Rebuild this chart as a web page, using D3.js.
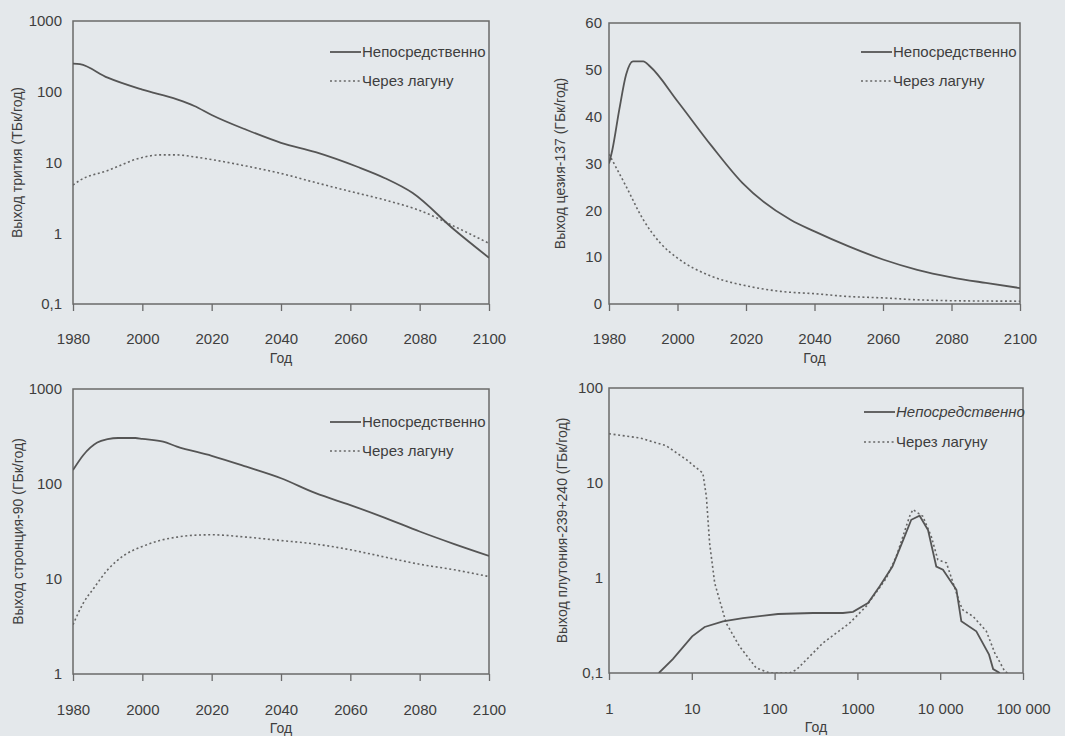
<!DOCTYPE html>
<html>
<head>
<meta charset="utf-8">
<script src="https://cdn.jsdelivr.net/npm/d3@7"></script>
<style>
  html, body { margin: 0; padding: 0; background: #e4e8eb; }
  svg { display: block; font-family: "Liberation Sans", Arial, sans-serif; }
</style>
</head>
<body>
<div id="chart"></div>
<script>
// Легенда
const seriesNames = ["Непосредственно", "Через лагуну"];

// Тритий (ТБк/год)
const tritiumDirectYears = [1980, 1982, 1990, 2000, 2010, 2015, 2020, 2030, 2040, 2050, 2062, 2070, 2078, 2090, 2100];
const tritiumDirect = [250, 245, 158, 107, 78, 63, 47, 29, 19, 14, 8.7, 6.0, 3.7, 1.12, 0.45];
const tritiumLagoonYears = [1980, 1982, 1990, 2000, 2005, 2010, 2015, 2020, 2030, 2040, 2050, 2060, 2070, 2080, 2090, 2100];
const tritiumLagoon = [4.8, 5.6, 7.7, 11.8, 12.8, 12.8, 12, 11, 8.9, 7, 5.2, 3.9, 2.95, 2.1, 1.25, 0.72];

// Цезий-137 (ГБк/год)
const cesiumDirectYears = [1980, 1981, 1983, 1985, 1987, 1990, 1992, 2000, 2010, 2019, 2033, 2040, 2050, 2060, 2070, 2080, 2090, 2100];
const cesiumDirect = [30, 33, 41.5, 49, 51.8, 51.8, 50.7, 43.3, 33.7, 25.8, 18, 15.5, 12.3, 9.5, 7.3, 5.7, 4.5, 3.4];
const cesiumLagoonYears = [1980, 1985, 1990, 1995, 2000, 2010, 2020, 2030, 2040, 2050, 2060, 2070, 2080, 2100];
const cesiumLagoon = [32, 25.1, 18, 13, 9.8, 5.9, 3.9, 2.7, 2.2, 1.6, 1.3, 0.9, 0.7, 0.6];

// Стронций-90 (ГБк/год)
const strontiumDirectYears = [1980, 1983, 1987, 1990, 1993, 1998, 2000, 2006, 2010, 2020, 2030, 2040, 2050, 2060, 2070, 2080, 2090, 2100];
const strontiumDirect = [140, 202, 273, 296, 305, 305, 298, 279, 248, 198, 152, 115, 80, 60, 44, 31.6, 23.3, 17.5];
const strontiumLagoonYears = [1980, 1983, 1986, 1990, 1995, 2000, 2005, 2010, 2015, 2020, 2030, 2040, 2050, 2060, 2070, 2080, 2090, 2100];
const strontiumLagoon = [3.3, 5.6, 8, 12.5, 18, 22, 25.4, 27.6, 28.9, 29.2, 27.6, 25.4, 23.3, 20.3, 17, 14.3, 12.5, 10.6];

// Плутоний-239+240 (ГБк/год), ось X — годы, логарифмическая
const plutoniumDirectYears = [4, 5.9, 10.1, 14.3, 23.8, 41.5, 110, 291, 670, 885, 1343, 1860, 2650, 3720, 4470, 5640, 7130, 8970, 10800, 15700, 18000, 27300, 38900, 43600, 52500];
const plutoniumDirect = [0.1, 0.14, 0.243, 0.305, 0.35, 0.379, 0.418, 0.428, 0.428, 0.44, 0.546, 0.817, 1.32, 2.74, 4.1, 4.53, 3.2, 1.32, 1.22, 0.75, 0.35, 0.275, 0.156, 0.11, 0.1];
const plutoniumLagoonYears = [1, 2.35, 4.9, 8.6, 13.6, 15, 16.4, 18.9, 26, 37.8, 60, 87, 152, 183, 384, 807, 1280, 2240, 2950, 4270, 4690, 6170, 7800, 9360, 11900, 17200, 18800, 24900, 36100, 45700, 60300, 65000];
const plutoniumLagoon = [33, 29.8, 24.7, 17.6, 12.7, 7.2, 2.33, 0.885, 0.336, 0.19, 0.113, 0.1, 0.1, 0.108, 0.207, 0.336, 0.504, 1.0, 1.69, 4.46, 5.25, 4.46, 2.74, 1.56, 1.44, 0.546, 0.46, 0.395, 0.275, 0.162, 0.104, 0.1];

// Подписи делений
const yearTicks = [1980, 2000, 2020, 2040, 2060, 2080, 2100];
const logYearTicks = [1, 10, 100, 1000, 10000, 100000];
const tritiumTicks = [0.1, 1, 10, 100, 1000];
const cesiumTicks = [0, 10, 20, 30, 40, 50, 60];
const strontiumTicks = [1, 10, 100, 1000];
const plutoniumTicks = [0.1, 1, 10, 100];

const width = 1065;
const height = 736;
const ink = "#3e3e3e";
const lineColor = "#555";

const fmt = v => {
  if (v < 1) return String(v).replace(".", ",");
  if (v >= 10000) return d3.format(",")(v).replace(/,/g, " ");
  return String(v);
};

const svg = d3.select("#chart")
  .append("svg")
  .attr("width", width)
  .attr("height", height);

const panels = [
  {
    id: "p1", box: { left: 73, right: 489, top: 21, bottom: 304 },
    x: d3.scaleLinear().domain([1980, 2100]), y: d3.scaleLog().domain([0.1, 1000]),
    xTicks: yearTicks, yTicks: tritiumTicks, yPad: 11, xPad: 22,
    yLabel: "Выход трития (ТБк/год)", yLabelX: 17,
    direct: [tritiumDirectYears, tritiumDirect], lagoon: [tritiumLagoonYears, tritiumLagoon],
    legendY: [52, 81], curve: d3.curveMonotoneX, italic: false
  },
  {
    id: "p2", box: { left: 609, right: 1020, top: 23, bottom: 304 },
    x: d3.scaleLinear().domain([1980, 2100]), y: d3.scaleLinear().domain([0, 60]),
    xTicks: yearTicks, yTicks: cesiumTicks, yPad: 7, xPad: 22,
    yLabel: "Выход цезия-137 (ГБк/год)", yLabelX: 560,
    direct: [cesiumDirectYears, cesiumDirect], lagoon: [cesiumLagoonYears, cesiumLagoon],
    legendY: [52, 81], curve: d3.curveMonotoneX, italic: false
  },
  {
    id: "p3", box: { left: 73, right: 489, top: 389, bottom: 674 },
    x: d3.scaleLinear().domain([1980, 2100]), y: d3.scaleLog().domain([1, 1000]),
    xTicks: yearTicks, yTicks: strontiumTicks, yPad: 11, xPad: 23,
    yLabel: "Выход стронция-90 (ГБк/год)", yLabelX: 18,
    direct: [strontiumDirectYears, strontiumDirect], lagoon: [strontiumLagoonYears, strontiumLagoon],
    legendY: [422, 451], curve: d3.curveMonotoneX, italic: false
  },
  {
    id: "p4", box: { left: 609, right: 1023, top: 388, bottom: 673 },
    x: d3.scaleLog().domain([1, 100000]), y: d3.scaleLog().domain([0.1, 100]),
    xTicks: logYearTicks, yTicks: plutoniumTicks, yPad: 6, xPad: 23,
    yLabel: "Выход плутония-239+240 (ГБк/год)", yLabelX: 562,
    direct: [plutoniumDirectYears, plutoniumDirect], lagoon: [plutoniumLagoonYears, plutoniumLagoon],
    legendY: [412, 442], curve: d3.curveLinear, italic: true
  }
];

panels.forEach(p => {
  const b = p.box;
  p.x.range([b.left, b.right]);
  p.y.range([b.bottom, b.top]);
  const g = svg.append("g");

  g.append("clipPath").attr("id", "clip-" + p.id)
    .append("rect")
    .attr("x", b.left).attr("y", b.top)
    .attr("width", b.right - b.left).attr("height", b.bottom - b.top);

  // Ось X
  const xAxis = g.append("g")
    .attr("transform", `translate(0,${b.bottom})`)
    .call(d3.axisBottom(p.x).tickValues(p.xTicks).tickFormat(fmt)
      .tickSize(7).tickSizeOuter(0).tickPadding(p.xPad));
  xAxis.select(".domain").remove();
  xAxis.selectAll("line").attr("stroke", "#6a6a6a").attr("stroke-width", 1.3);
  xAxis.selectAll("text").attr("fill", ink).style("font-size", "15px");

  // Ось Y
  const yAxis = g.append("g")
    .attr("transform", `translate(${b.left},0)`)
    .call(d3.axisLeft(p.y).tickValues(p.yTicks).tickFormat(fmt)
      .tickSize(0).tickPadding(p.yPad));
  yAxis.select(".domain").remove();
  yAxis.selectAll("text").attr("fill", ink).style("font-size", "15px");

  // Рамка
  g.append("rect")
    .attr("x", b.left).attr("y", b.top)
    .attr("width", b.right - b.left).attr("height", b.bottom - b.top)
    .attr("fill", "none").attr("stroke", "#6a6a6a").attr("stroke-width", 1.5);

  // Подписи осей
  g.append("text")
    .attr("x", (b.left + b.right) / 2).attr("y", b.bottom + 59)
    .attr("text-anchor", "middle").attr("fill", ink)
    .style("font-size", "14px").text("Год");

  g.append("text")
    .attr("transform", `translate(${p.yLabelX},${(b.top + b.bottom) / 2}) rotate(-90)`)
    .attr("dy", "0.35em")
    .attr("text-anchor", "middle").attr("fill", ink)
    .style("font-size", "14px").text(p.yLabel);

  // Линии
  const line = d3.line()
    .x(d => p.x(d[0]))
    .y(d => p.y(d[1]))
    .curve(p.curve);

  const directPts = d3.zip(p.direct[0], p.direct[1]);
  const lagoonPts = d3.zip(p.lagoon[0], p.lagoon[1]);

  const plot = g.append("g").attr("clip-path", `url(#clip-${p.id})`);
  plot.append("path")
    .datum(lagoonPts)
    .attr("fill", "none")
    .attr("stroke", "#666")
    .attr("stroke-width", 1.6)
    .attr("stroke-dasharray", "2,2.6")
    .attr("d", line);
  plot.append("path")
    .datum(directPts)
    .attr("fill", "none")
    .attr("stroke", lineColor)
    .attr("stroke-width", 1.8)
    .attr("d", line);

  // Легенда
  const lx = b.right - 159;
  const tx = b.right - 128;
  seriesNames.forEach((name, i) => {
    const ly = p.legendY[i];
    g.append("line")
      .attr("x1", lx).attr("x2", tx)
      .attr("y1", ly).attr("y2", ly)
      .attr("stroke", i === 0 ? lineColor : "#666")
      .attr("stroke-width", i === 0 ? 1.8 : 1.6)
      .attr("stroke-dasharray", i === 0 ? null : "2,2.6");
    g.append("text")
      .attr("x", tx + 1).attr("y", ly)
      .attr("dy", "0.35em").attr("fill", ink)
      .style("font-size", "15px")
      .style("font-style", p.italic && i === 0 ? "italic" : "normal")
      .text(name);
  });
});
</script>
</body>
</html>
